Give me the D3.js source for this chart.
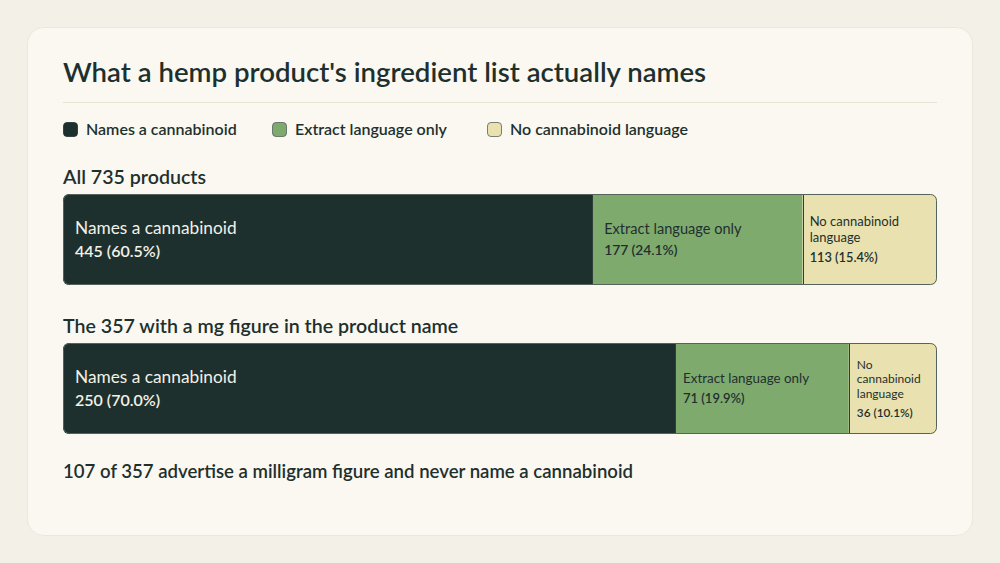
<!DOCTYPE html>
<html><head><meta charset="utf-8">
<script src="https://cdn.jsdelivr.net/npm/d3@7"></script>
<style>
html,body{margin:0;padding:0;background:#f3f0e7;}
svg{display:block;font-family:Lato,"Noto Sans",sans-serif;}
</style></head>
<body>
<svg id="chart" width="1000" height="563"></svg>
<script>
const title = "What a hemp product's ingredient list actually names";
const categories = ["Names a cannabinoid", "Extract language only", "No cannabinoid language"];
const colors = ["#1e302e", "#7faa6e", "#e9e2b0"];
const textColors = ["#f3f0e7", "#1e302e", "#1e302e"];
const groupLabels = ["All 735 products", "The 357 with a mg figure in the product name"];
const groupTotals = [735, 357];
const seriesAll = [445, 177, 113];
const seriesMg = [250, 71, 36];
const footnote = "107 of 357 advertise a milligram figure and never name a cannabinoid";

const groups = [
  {label: groupLabels[0], total: groupTotals[0], values: seriesAll},
  {label: groupLabels[1], total: groupTotals[1], values: seriesMg}
];

const svg = d3.select("#chart");
const ink = "#1e302e";

svg.append("rect").attr("x",27.5).attr("y",27.5).attr("width",945).attr("height",508)
  .attr("rx",16).attr("fill","#faf8f1").attr("stroke","#ebe7dc");

const left = 63, right = 937;
svg.append("text").attr("x",left).attr("y",82).attr("fill",ink)
  .attr("font-size",27.6).attr("font-weight",600).text(title);
svg.append("line").attr("x1",left).attr("x2",right).attr("y1",102.5).attr("y2",102.5)
  .attr("stroke","#e6e2d6");

// legend
const legendX = [63, 272, 487];
const lg = svg.append("g");
categories.forEach((c,i)=>{
  const g = lg.append("g").attr("transform",`translate(${legendX[i]},122)`);
  g.append("rect").attr("x",0.5).attr("y",0.5).attr("width",14).attr("height",14).attr("rx",3.5)
    .attr("fill",colors[i]).attr("stroke", i===0?colors[0]:"#55625c").attr("stroke-width",0.8);
  g.append("text").attr("x",23).attr("y",12.5).attr("font-size",16).attr("font-weight",600)
    .attr("fill",ink).text(c);
});

const x = d3.scaleLinear().domain([0,1]).range([left,right]);
const barTop = [194, 343];
const barH = 91;
const labelY = [184, 333];

function styleFor(w){
  if (w >= 400) return {fs:17.3, vfs:16, pad:12};
  if (w >= 190) return {fs:14.6, vfs:13.8, pad:12};
  if (w >= 150) return {fs:13.4, vfs:13, pad:8};
  if (w >= 110) return {fs:13, vfs:12.8, pad:7};
  return {fs:12, vfs:11.8, pad:8};
}

const defs = svg.append("defs");
groups.forEach((grp, gi)=>{
  svg.append("text").attr("x",left).attr("y",labelY[gi]).attr("font-size",19.6)
    .attr("font-weight",600).attr("fill",ink).text(grp.label);
  const y0 = barTop[gi];
  const cid = "clip"+gi;
  defs.append("clipPath").attr("id",cid).append("rect")
    .attr("x",left).attr("y",y0).attr("width",right-left).attr("height",barH).attr("rx",6);
  const g = svg.append("g");
  const segs = g.append("g").attr("clip-path",`url(#${cid})`);
  let cum = 0;
  const data = grp.values.map((v,i)=>{
    const d = {i, v, start: cum/grp.total, end: (cum+v)/grp.total};
    cum += v; return d;
  });
  segs.selectAll("rect").data(data).join("rect")
    .attr("x",d=>x(d.start)).attr("y",y0)
    .attr("width",d=>x(d.end)-x(d.start)).attr("height",barH)
    .attr("fill",d=>colors[d.i]);
  segs.selectAll("line").data(data.slice(1)).join("line")
    .attr("x1",d=>Math.round(x(d.start))+0.5).attr("x2",d=>Math.round(x(d.start))+0.5)
    .attr("y1",y0).attr("y2",y0+barH).attr("stroke","#2e3f3a").attr("stroke-width",1);
  g.append("rect").attr("x",left+0.5).attr("y",y0+0.5).attr("width",right-left-1).attr("height",barH-1)
    .attr("rx",6).attr("fill","none").attr("stroke","#56635d").attr("stroke-width",1);

  data.forEach(d=>{
    const x0 = x(d.start), w = x(d.end)-x(d.start);
    const st = styleFor(w);
    const maxW = w - st.pad*2;
    const t = g.append("text").attr("fill",textColors[d.i]).attr("font-size",st.fs);
    const words = categories[d.i].split(" ");
    const lines = [];
    let cur = "";
    const probe = g.append("text").attr("font-size",st.fs).attr("visibility","hidden");
    words.forEach(wd=>{
      const test = cur ? cur+" "+wd : wd;
      probe.text(test);
      if (probe.node().getComputedTextLength() > maxW && cur){ lines.push(cur); cur = wd; }
      else cur = test;
    });
    lines.push(cur);
    probe.remove();
    const lh = st.fs*1.2;
    const gap = st.vfs + 7;
    const blockH = st.fs*0.72 + (lines.length-1)*lh + gap;
    const top = y0 + barH/2 - blockH/2;
    const firstBase = top + st.fs*0.72;
    lines.forEach((ln,li)=>{
      t.append("tspan").attr("x",x0+st.pad).attr("y",firstBase+li*lh).text(ln);
    });
    g.append("text").attr("fill",textColors[d.i]).attr("font-size",st.vfs).attr("font-weight",600)
      .attr("x",x0+st.pad).attr("y",firstBase+(lines.length-1)*lh+gap)
      .text(`${d.v} (${(d.v/grp.total*100).toFixed(1)}%)`);
  });
});

svg.append("text").attr("x",left).attr("y",478).attr("font-size",18.6).attr("font-weight",600)
  .attr("fill",ink).text(footnote);
</script>
</body></html>
